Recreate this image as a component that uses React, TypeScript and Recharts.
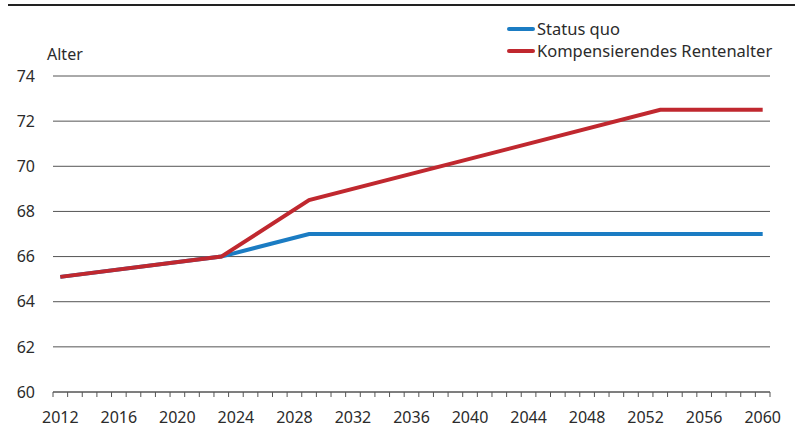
import React from 'react'
import { LineChart, Line, XAxis, YAxis, CartesianGrid } from 'recharts'

// Stützstellen (Knickpunkte) der beiden Verläufe
const years = [2012, 2023, 2029, 2053, 2060]
const statusQuo = [65.1, 66.0, 67.0, 67.0, 67.0]
const kompensierend = [65.1, 66.0, 68.5, 72.5, 72.5]

const yTicks = [60, 62, 64, 66, 68, 70, 72, 74]
const labelYears = [2012, 2016, 2020, 2024, 2028, 2032, 2036, 2040, 2044, 2048, 2052, 2056, 2060]
// kleine Striche zwischen den Jahren
const yearMarks = Array.from({ length: 50 }, (_, i) => 2011.5 + i)

const seriesInfo = [
  { key: 'statusQuo', name: 'Status quo', color: '#1b7cc3' },
  { key: 'kompensierend', name: 'Kompensierendes Rentenalter', color: '#c0282f' },
]

const data = years.map((year, i) => ({
  year,
  statusQuo: statusQuo[i],
  kompensierend: kompensierend[i],
}))

const textColor = '#2b2b2b'
const gridColor = '#555'

export default function App() {
  return (
    <div
      style={{
        position: 'absolute',
        left: 0,
        top: 0,
        width: 800,
        height: 427,
        background: '#fff',
        fontFamily: '"Noto Sans", sans-serif',
        color: textColor,
      }}
    >
      {/* Linie oben */}
      <div style={{ position: 'absolute', left: 8, top: 4, width: 787, height: 2, background: '#222' }} />

      {/* Legende */}
      <div style={{ position: 'absolute', left: 507, top: 18 }}>
        {seriesInfo.map(s => (
          <div key={s.key} style={{ display: 'flex', alignItems: 'center', height: 22 }}>
            <span style={{ display: 'inline-block', width: 28, height: 4, background: s.color, borderRadius: 2 }} />
            <span style={{ marginLeft: 2, fontSize: 16.5, lineHeight: '22px' }}>{s.name}</span>
          </div>
        ))}
      </div>

      {/* Achsentitel */}
      <div style={{ position: 'absolute', left: 47, top: 43, fontSize: 16, lineHeight: '22px' }}>Alter</div>

      <LineChart
        width={800}
        height={427}
        data={data}
        margin={{ top: 76, right: 30, bottom: 0, left: 0 }}
      >
        <CartesianGrid vertical={false} stroke={gridColor} xAxisId="a_marks" />
        <XAxis
          xAxisId="a_marks"
          dataKey="year"
          type="number"
          domain={[2011.5, 2060.5]}
          ticks={yearMarks}
          interval={0}
          height={6}
          tickSize={5}
          tickFormatter={() => ''}
          stroke={gridColor}
        />
        <XAxis
          xAxisId="b_labels"
          dataKey="year"
          type="number"
          domain={[2011.5, 2060.5]}
          ticks={labelYears}
          interval={0}
          height={29}
          axisLine={false}
          tickLine={false}
          tickSize={0}
          tickMargin={14}
          tick={{ fill: textColor, fontSize: 16 }}
        />
        <YAxis
          domain={[60, 74]}
          ticks={yTicks}
          interval={0}
          width={53}
          axisLine={false}
          tickLine={false}
          tickSize={0}
          tickMargin={18}
          tick={{ fill: textColor, fontSize: 16 }}
        />
        {seriesInfo.map(s => (
          <Line
            key={s.key}
            xAxisId="a_marks"
            type="linear"
            dataKey={s.key}
            name={s.name}
            stroke={s.color}
            strokeWidth={4}
            dot={false}
            isAnimationActive={false}
          />
        ))}
      </LineChart>
    </div>
  )
}
